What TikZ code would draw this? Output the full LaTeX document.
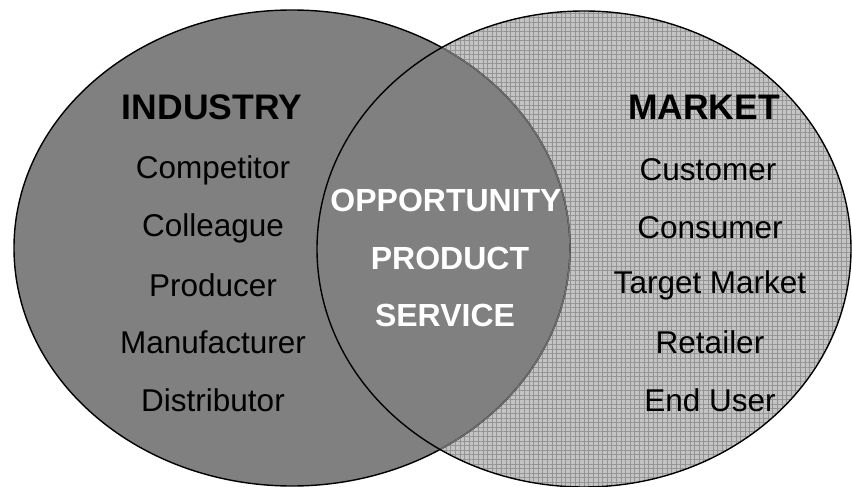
\documentclass[tikz,border=0pt]{standalone}
\usepackage{fontspec}
\setmainfont{Liberation Sans}
\usetikzlibrary{patterns.meta}

\definecolor{setgray}{HTML}{808080}
\definecolor{dotgray}{HTML}{C4C4C4}
\definecolor{gridgray}{HTML}{949494}

\tikzset{
	head text/.style = {font = \fontsize{35.5}{40}\selectfont\bfseries},
	item text/.style = {font = \fontsize{31.5}{36}\selectfont},
	core text/.style = {font = \fontsize{32}{36}\selectfont\bfseries, text = white}
}

\begin{document}
\begin{tikzpicture}[x = 1pt, y = -1pt]
			% Fix the page size
			\useasboundingbox (0, 0) rectangle (852, 487);

			% Define the centres of the two sets
			\coordinate (I) at (292, 248);
			\coordinate (M) at (584, 249);

			% Fill the market set with the grid pattern
			\fill[dotgray] (M) ellipse (267 and 238);
			\fill[pattern = {Hatch[distance = 4.6pt, angle = 0, line width = 0.8pt]}, pattern color = gridgray] (M) ellipse (267 and 238);

			% Draw the industry set on top
			\draw[fill = setgray, line width = 1.4pt] (I) ellipse (278 and 238);
			\begin{scope}
				\clip (M) ellipse (267 and 238);
				\draw[gridgray!75!black, line width = 1.4pt] (I) ellipse (278 and 238);
			\end{scope}
			\draw[line width = 1.4pt] (M) ellipse (267 and 238);

			% Draw the industry labels
			\node[head text] (industry) at (212, 107) {INDUSTRY};
			\node[item text] (competitor) at (213, 170) {Competitor};
			\node[item text] (colleague) at (213, 228) {Colleague};
			\node[item text] (producer) at (213, 285) {Producer};
			\node[item text] (manufacturer) at (213, 342) {Manufacturer};
			\node[item text] (distributor) at (213, 400) {Distributor};

			% Draw the market labels
			\node[head text] (market) at (704, 107) {MARKET};
			\node[item text] (customer) at (708, 170) {Customer};
			\node[item text] (consumer) at (710, 228) {Consumer};
			\node[item text] (target) at (710, 285) {Target Market};
			\node[item text] (retailer) at (710, 342) {Retailer};
			\node[item text] (enduser) at (710, 400) {End User};

			% Draw the overlap labels
			\node[core text] (opportunity) at (446, 200) {OPPORTUNITY};
			\node[core text] (product) at (450, 258) {PRODUCT};
			\node[core text] (service) at (445, 315) {SERVICE};

		\end{tikzpicture}
\end{document}
